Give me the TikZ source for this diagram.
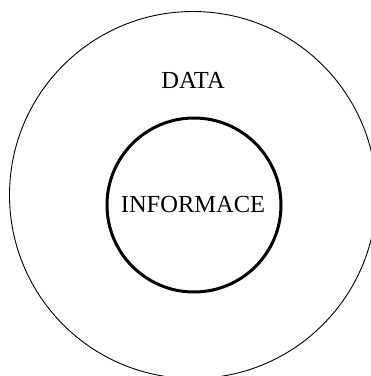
\documentclass[tikz,border=0pt]{standalone}
\usepackage{fontspec}
\setmainfont{Liberation Serif}
\begin{document}
\begin{tikzpicture}[x=1pt,y=-1pt,
  lbl/.style={font=\fontsize{24.5}{29}\selectfont, inner sep=0pt},
  outerring/.style={draw=black, line width=0.9pt},
  innerring/.style={draw=black, line width=3pt}]
\useasboundingbox (0,0) rectangle (371,376);
\clip (0,0) rectangle (371,376);
\node[outerring, circle, minimum size=367pt, inner sep=0pt] (data) at (193,195) {};
\node[innerring, circle, minimum size=174pt, inner sep=0pt] (info) at (194,205) {};
\node[lbl] (datalbl) at (193,80) {DATA};
\node[lbl] (infolbl) at (193,205) {INFORMACE};
\end{tikzpicture}
\end{document}
